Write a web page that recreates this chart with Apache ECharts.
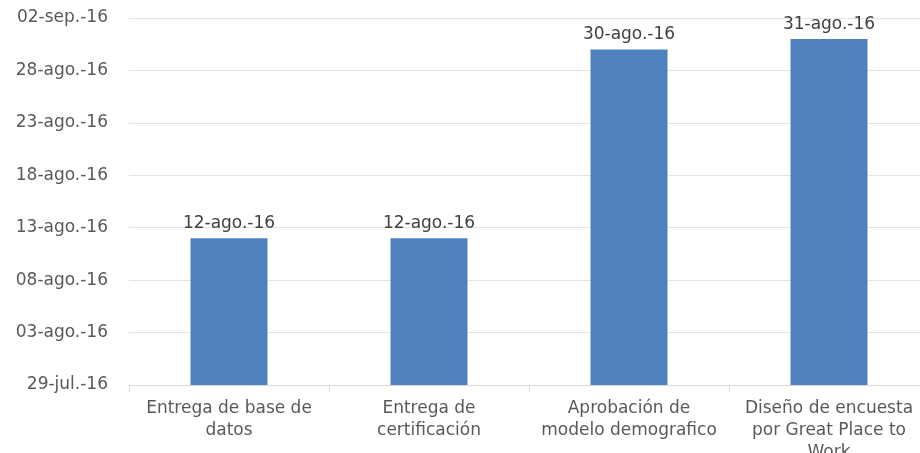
<!DOCTYPE html>
<html>
<head>
<meta charset="utf-8">
<script src="https://cdn.jsdelivr.net/npm/echarts@6/dist/echarts.min.js"></script>
<style>
html,body{margin:0;padding:0;background:#fff;}
#chart{width:920px;height:453px;}
</style>
</head>
<body>
<div id="chart"></div>
<script>
// Categories (line breaks as in the reference)
const categories = [
  'Entrega de base de\ndatos',
  'Entrega de\ncertificación',
  'Aprobación de\nmodelo demografico',
  'Diseño de encuesta\npor Great Place to\nWork'
];
// Series values (dates)
const dueDates = ['2016-08-12', '2016-08-12', '2016-08-30', '2016-08-31'];
const dataLabels = ['12-ago.-16', '12-ago.-16', '30-ago.-16', '31-ago.-16'];
// Axis tick labels (every 5 days from the base date)
const baseDate = '2016-07-29';
const tickLabels = ['29-jul.-16', '03-ago.-16', '08-ago.-16', '13-ago.-16', '18-ago.-16', '23-ago.-16', '28-ago.-16', '02-sep.-16'];

const DAY = 86400000;
const dayOffsets = dueDates.map(d => (Date.parse(d) - Date.parse(baseDate)) / DAY);

const font = 'DejaVu Sans';
const chart = echarts.init(document.getElementById('chart'));
chart.setOption({
  animation: false,
  grid: { left: 129, right: -9, top: 18, bottom: 68, containLabel: false, outerBoundsMode: 'none' },
  xAxis: {
    type: 'category',
    data: categories,
    axisLine: { lineStyle: { color: '#d9d9d9', width: 1 } },
    axisTick: { show: true, length: 7, lineStyle: { color: '#d9d9d9' } },
    axisLabel: { color: '#595959', fontFamily: font, fontSize: 17, lineHeight: 22, margin: 13, interval: 0 }
  },
  yAxis: {
    type: 'value',
    min: 0, max: 35, interval: 5,
    axisLine: { show: false },
    axisTick: { show: false },
    splitLine: { lineStyle: { color: '#e3e3e3', width: 1 } },
    axisLabel: {
      color: '#595959', fontFamily: font, fontSize: 17, margin: 21,
      formatter: v => tickLabels[Math.round(v / 5)]
    }
  },
  series: [{
    type: 'bar',
    data: dayOffsets,
    barWidth: 77,
    itemStyle: { color: '#4f81bd' },
    label: {
      show: true, position: 'top', distance: 6,
      color: '#404040', fontFamily: font, fontSize: 17,
      formatter: p => dataLabels[p.dataIndex]
    }
  }]
});
</script>
</body>
</html>
